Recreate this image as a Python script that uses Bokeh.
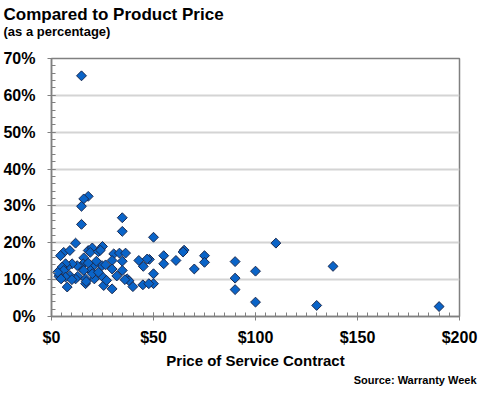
from bokeh.plotting import figure
from bokeh.models import (FixedTicker, NumeralTickFormatter, Title, Range1d)
from bokeh.embed import file_html
from bokeh.resources import INLINE
import numpy as np

# Price of service contract ($) and price as % of product price
price = [14.7, 18, 15.8, 14.7, 14.7, 11.8, 34.7, 34.7, 50,
         55, 55, 50, 50, 48, 61, 65, 64.5, 70, 75, 75, 90, 90, 90, 100, 100, 110, 130, 138, 190,
         6, 4.4, 9, 18, 20, 19, 23, 25, 30.5, 33.3, 36.3, 15.8, 42.8, 46.9, 34.7, 29.7, 29.7,
         34.7, 45, 37.1, 38, 39.9, 44.8, 47.7, 29.7, 25.6, 24.8, 27, 24.8, 20.7, 21, 19.1,
         16.7, 16.7, 15.5, 14.2, 12.6, 12.9, 11.8, 10.1, 7.7, 6.9, 5.2, 6, 9, 6.9, 3.6, 4.7,
         7.7, 15.8, 20, 22, 17, 10, 3, 18, 24, 26.5, 32, 36, 23]
pct = [65.3, 32.6, 31.9, 29.9, 25, 19.9, 26.8, 23.1, 21.5,
       16.5, 14.3, 11.6, 8.9, 15.5, 15.2, 18, 17.5, 12.9, 16.5, 14.7, 14.9, 10.4, 7.3, 12.3, 3.9, 19.9, 3, 13.6, 2.7,
       17.4, 16.5, 17.9, 17.9, 18.6, 17.4, 17.6, 19, 17, 17.2, 17.2, 15.9, 15.2, 15.6, 15, 15.2, 12.9,
       12.5, 13.6, 10.2, 9.7, 8.1, 8.6, 8.9, 7.5, 8.4, 10.9, 9.8, 13.8, 13.8, 10.2, 12.5,
       8.9, 10.2, 14.3, 13.4, 13.8, 10.9, 10.2, 14.3, 13.4, 14.3, 13.4, 12.5, 11.1, 10.7, 10.9, 10.2,
       8, 12.5, 11.6, 15, 9.5, 10, 12, 14.5, 18, 14, 11, 10, 12]
x_ticks = [0, 50, 100, 150, 200]
y_ticks = [0, 0.1, 0.2, 0.3, 0.4, 0.5, 0.6, 0.7]

FONT = "Liberation Sans"

p = figure(width=480, height=400, output_backend="svg", toolbar_location=None,
           x_range=Range1d(0, 200), y_range=Range1d(0, 0.7),
           min_border_left=51, min_border_right=21, min_border_top=58, min_border_bottom=84)
p.background_fill_color = "white"
p.border_fill_color = "white"
p.outline_line_color = "#808080"
p.outline_line_width = 1.5

p.scatter(price, [v / 100 for v in pct], marker="square", angle=np.pi / 4, size=7,
          fill_color="#0a64c8", line_color="#1a2a50", line_width=1)

p.xaxis.ticker = FixedTicker(ticks=x_ticks, minor_ticks=list(range(0, 201, 5)))
p.yaxis.ticker = FixedTicker(ticks=y_ticks, minor_ticks=[i / 100 for i in range(0, 71, 2)])
p.xaxis.formatter = NumeralTickFormatter(format="$0")
p.yaxis.formatter = NumeralTickFormatter(format="0%")

for ax in (p.xaxis[0], p.yaxis[0]):
    ax.axis_line_color = "#808080"
    ax.axis_line_width = 1.5
    ax.major_tick_line_color = "#808080"
    ax.minor_tick_line_color = "#808080"
    ax.major_tick_in = 4
    ax.major_tick_out = 4
    ax.minor_tick_in = 4
    ax.minor_tick_out = 0
    ax.major_label_text_font = FONT
    ax.major_label_text_font_style = "bold"
    ax.major_label_text_font_size = "16px"
    ax.major_label_text_color = "black"

p.yaxis.major_label_standoff = 12
p.xaxis.major_label_standoff = 8
p.xaxis.axis_label = "Price of Service Contract"
p.xaxis.axis_label_text_font = FONT
p.xaxis.axis_label_text_font_style = "bold"
p.xaxis.axis_label_text_font_size = "15px"
p.xaxis.axis_label_text_color = "black"
p.xaxis.axis_label_standoff = 3

p.xgrid.grid_line_color = None
p.ygrid.grid_line_color = "#d4d4d4"
p.ygrid.grid_line_width = 2

# spacer between frame and subtitle
p.add_layout(Title(text=" ", text_font=FONT, text_font_size="10px", standoff=7), "above")
p.add_layout(Title(text="(as a percentage)", text_font=FONT, text_font_style="bold",
                   text_font_size="13px", text_color="black", align="left", offset=-48,
                   standoff=0), "above")
p.add_layout(Title(text="Compared to Product Price", text_font=FONT, text_font_style="bold",
                   text_font_size="17px", text_color="black", align="left", offset=-48,
                   standoff=-4), "above")
p.add_layout(Title(text="Source: Warranty Week", text_font=FONT, text_font_style="bold",
                   text_font_size="11px", text_color="black", align="right", offset=-17,
                   standoff=0), "below")

open("out.html", "w").write(file_html(p, INLINE))
